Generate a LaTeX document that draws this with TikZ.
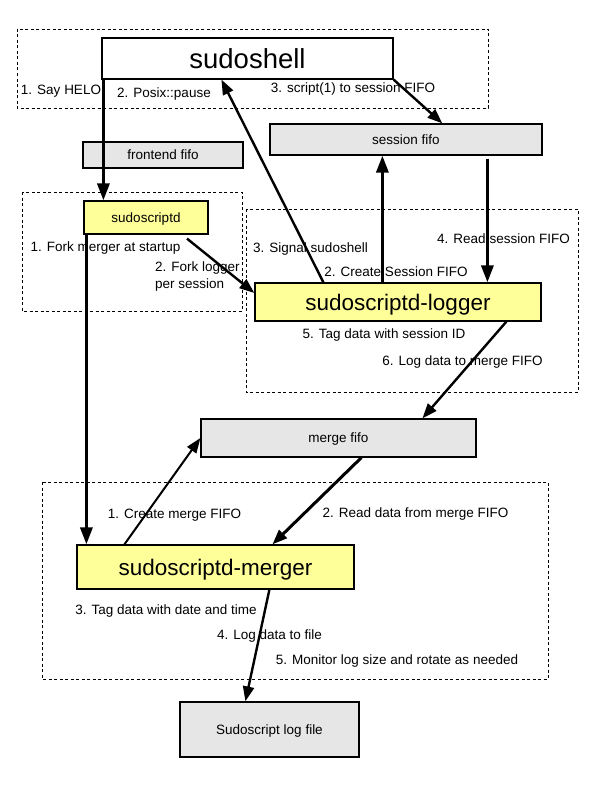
\documentclass[tikz,border=0pt]{standalone}
\usepackage{fontspec}
\setmainfont{Liberation Sans}
\usepackage{tikz}
\usetikzlibrary{positioning,arrows.meta,calc}
\definecolor{procfill}{HTML}{FFFF99}
\definecolor{fifofill}{HTML}{E6E6E6}
\tikzset{
    box/.style={rectangle, draw, line width=1.2pt, inner sep=0pt, text depth=0pt, align=center},
    proc/.style={box, fill=procfill},
    fifo/.style={box, fill=fifofill, font=\fontsize{13.5}{16}\selectfont, text height=9.7pt},
    big/.style={font=\fontsize{22.5}{26}\selectfont, text height=16.2pt},
    group/.style={draw, line width=0.9pt, dash pattern=on 3pt off 2.5pt},
    annot/.style={inner sep=0pt, font=\fontsize{13.5}{17}\selectfont, text height=9.7pt, text depth=0pt},
    arrow/.style={-{Triangle[length=17pt,width=12pt]}, line width=3.3pt},
    thinarrow/.style={-{Triangle[length=15pt,width=11pt]}, line width=2.4pt}
}

\begin{document}
\begin{tikzpicture}[x=1pt, y=-1pt]
    \useasboundingbox[fill=white] (0,0) rectangle (600,800);
    % dashed groups
    \draw[group] (17,29) rectangle (488,108);
    \draw[group] (22,192) rectangle (242,311);
    \draw[group] (246,209) rectangle (578,392);
    \draw[group] (42,482) rectangle (548,679);
    % processes and fifos
    \node[box, fill=white, minimum width=291pt, minimum height=41pt, font=\fontsize{27.5}{30}\selectfont, text height=19.8pt] (sudoshell) at (247.5,58.5) {sudoshell};
    \node[fifo, minimum width=160pt, minimum height=26pt] (frontend) at (163,155) {frontend fifo};
    \node[fifo, minimum width=272pt, minimum height=31pt] (session) at (406,139.5) {session fifo};
    \node[proc, minimum width=124pt, minimum height=33pt, font=\fontsize{13.5}{16}\selectfont, text height=9.7pt] (sudoscriptd) at (146,217.5) {sudoscriptd};
    \node[proc, big, minimum width=286pt, minimum height=38pt] (logger) at (398,302) {sudoscriptd-logger};
    \node[fifo, minimum width=275pt, minimum height=38pt] (merge) at (338.5,438) {merge fifo};
    \node[proc, big, minimum width=277pt, minimum height=44pt] (merger) at (215.5,567) {sudoscriptd-merger};
    \node[fifo, minimum width=179pt, minimum height=55pt] (logfile) at (269.5,729.5) {Sudoscript log file};
    % step labels
    \node[annot] (helo) at (61,90) {1. Say HELO};
    \node[annot] (pause) at (164,93) {2. Posix::pause};
    \node[annot] (script) at (353,88) {3. script(1) to session FIFO};
    \node[annot] (forkmerger) at (105.5,247) {1. Fork merger at startup};
    \node[annot, text height=, text depth=, align=left, anchor=north west] (forklogger) at (155,262) {2. Fork logger\\per session};
    \node[annot] (signal) at (310.5,248) {3. Signal sudoshell};
    \node[annot] (readsession) at (503.5,239) {4. Read session FIFO};
    \node[annot] (createsession) at (396,272) {2. Create Session FIFO};
    \node[annot] (tagsession) at (384,334) {5. Tag data with session ID};
    \node[annot] (logmerge) at (462.5,361) {6. Log data to merge FIFO};
    \node[annot] (createmerge) at (174.5,514) {1. Create merge FIFO};
    \node[annot] (readmerge) at (415.5,513) {2. Read data from merge FIFO};
    \node[annot] (tagdate) at (166,610) {3. Tag data with date and time};
    \node[annot] (logfilelbl) at (269.5,635) {4. Log data to file};
    \node[annot] (monitor) at (397,660) {5. Monitor log size and rotate as needed};
    % connectors
    \draw[arrow] ([xshift=2pt]sudoshell.south west) -- ([xshift=2pt]sudoshell.south west |- sudoscriptd.north);
    \draw[thinarrow] ([xshift=69pt]logger.north west) -- ([xshift=120pt]sudoshell.south west);
    \draw[thinarrow] (sudoshell.south east) -- ([xshift=173pt]session.north west);
    \draw[arrow] ([xshift=128pt]logger.north west) -- ([xshift=128pt]logger.north west |- session.south);
    \draw[arrow] ([xshift=218pt,yshift=-3pt]session.south west) -- ([xshift=218pt]session.south west |- logger.north);
    \draw[thinarrow] ([xshift=41pt,yshift=-4pt]sudoscriptd.south) -- ([yshift=9pt]logger.west);
    \draw[thinarrow] ([xshift=252pt]logger.south west) -- ([xshift=222pt]merge.north west);
    \draw[arrow] ([xshift=3pt]sudoscriptd.south west) -- ([xshift=3pt]sudoscriptd.south west |- merger.north);
    \draw[thinarrow, line width=2pt] ([xshift=48pt]merger.north west) -- (merge.west);
    \draw[thinarrow, line width=3pt] ([xshift=161pt]merge.south west) -- ([xshift=196pt]merger.north west);
    \draw[thinarrow] ([xshift=193pt]merger.south west) -- ([xshift=66pt]logfile.north west);
\end{tikzpicture}
\end{document}
